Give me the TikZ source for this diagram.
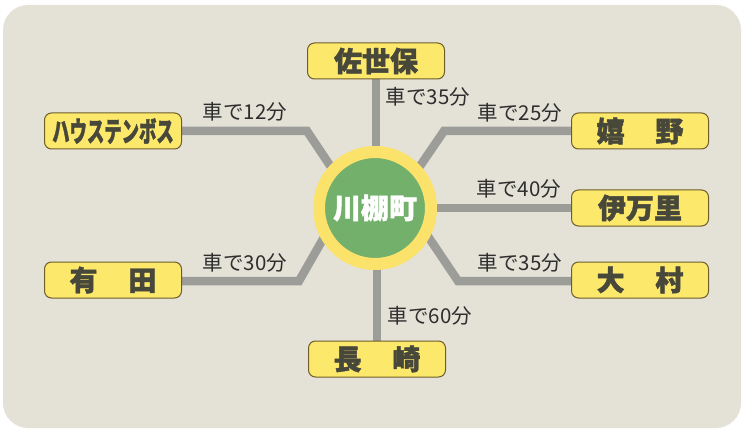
\documentclass[tikz,border=0pt]{standalone}
\usepackage{fontspec}
\setmainfont{Noto Sans CJK JP}[BoldFeatures={FakeBold=1.6}]
\usetikzlibrary{backgrounds}
\definecolor{panel}{HTML}{E4E2D7}
\definecolor{boxfill}{HTML}{FCE96C}
\definecolor{boxline}{HTML}{6E5C2A}
\definecolor{boxtext}{HTML}{47473A}
\definecolor{road}{HTML}{9C9C99}
\definecolor{hubring}{HTML}{FBE26A}
\definecolor{hubfill}{HTML}{72B06B}
\tikzset{
  town/.style={draw=boxline,line width=1pt,fill=boxfill,rounded corners=7pt,minimum width=137pt,minimum height=36pt,inner sep=0pt,text=boxtext,font=\fontsize{28}{28}\selectfont\bfseries},
  time/.style={text=black!82,font=\fontsize{20.5}{20.5}\selectfont,inner sep=0pt},
  road/.style={draw=road,line width=8.5pt,line join=miter}
}
\begin{document}
\begin{tikzpicture}[x=1pt,y=-1pt,>=stealth]
\useasboundingbox (0,0) rectangle (743,430);
\node[circle,draw=hubring,line width=12pt,fill=hubfill,minimum size=112pt,inner sep=0pt,text=white,font=\fontsize{28}{28}\selectfont\bfseries] (kawatana) at (375,208) {川棚町};
\node[town] (sasebo) at (376,61) {佐世保};
\node[town] (huis) at (113,131) {\scalebox{0.62}[1]{ハウステンボス}};
\node[town] (ureshino) at (640,131) {嬉\hspace{1.1em}野};
\node[town] (imari) at (640,208) {伊万里};
\node[town] (omura) at (640,280) {大\hspace{1.1em}村};
\node[town] (arita) at (113,280) {有\hspace{1.1em}田};
\node[town] (nagasaki) at (377,359) {長\hspace{1.1em}崎};
\coordinate (a1) at (307,131); \coordinate (a2) at (345,188);
\coordinate (b1) at (444,131); \coordinate (b2) at (405,188);
\coordinate (c1) at (458,281); \coordinate (c2) at (415,217);
\coordinate (d1) at (299,281); \coordinate (d2) at (335,218);
\begin{scope}[on background layer]
\fill[panel,rounded corners=25pt] (3,5) rectangle (741,428);
\draw[road] (sasebo.south) -- (sasebo.south |- kawatana.center);
\draw[road] (nagasaki.north) -- (nagasaki.north |- kawatana.center);
\draw[road] (huis.east) -- (a1) -- (a2);
\draw[road] (ureshino.west) -- (b1) -- (b2);
\draw[road] (imari.west) -- (kawatana.center);
\draw[road] (omura.west |- c1) -- (c1) -- (c2);
\draw[road] (arita.east |- d1) -- (d1) -- (d2);
\end{scope}
\node[time] at (245,112) {車で12分};
\node[time] at (428,97) {車で35分};
\node[time] at (520,113) {車で25分};
\node[time] at (519,189) {車で40分};
\node[time] at (520,263) {車で35分};
\node[time] at (245,263) {車で30分};
\node[time] at (430,316) {車で60分};
\end{tikzpicture}
\end{document}
